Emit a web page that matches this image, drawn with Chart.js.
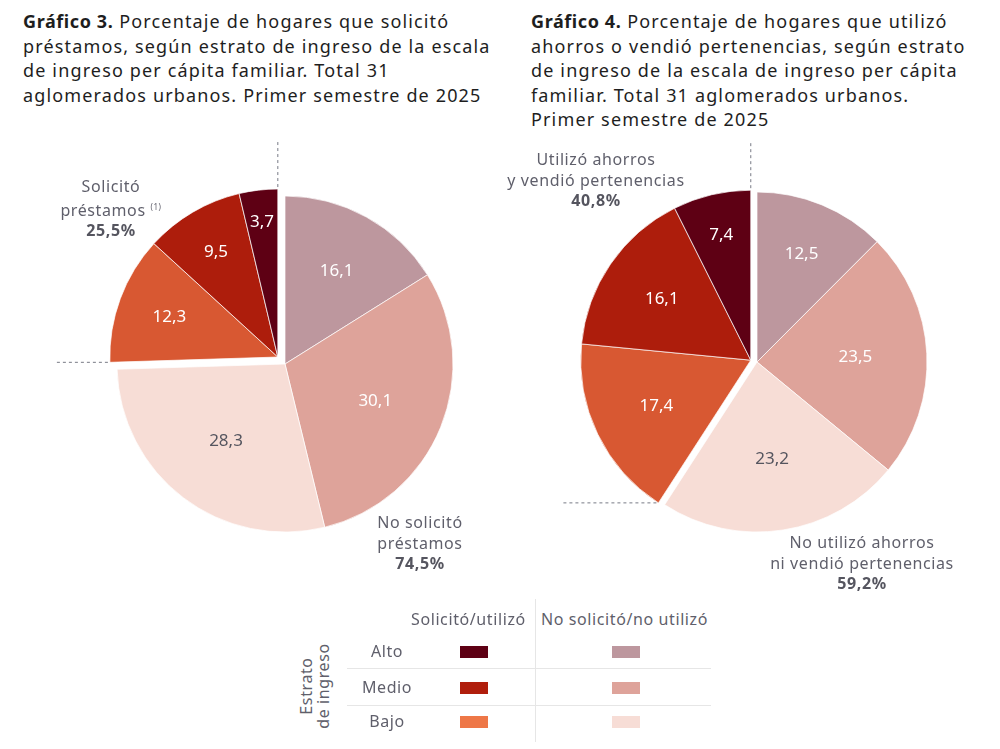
<!DOCTYPE html>
<html>
<head>
<meta charset="utf-8">
<script src="https://cdn.jsdelivr.net/npm/chart.js@4.4.1/dist/chart.umd.min.js"></script>
<style>
  body { margin: 0; background: #fff; width: 1000px; height: 749px; overflow: hidden; position: relative; font-family: "Noto Sans", sans-serif; }
  .title { position: absolute; top: 9px; font-family: "Noto Sans", sans-serif; font-size: 18px; line-height: 24.5px; color: #1e1e1e; letter-spacing: 1.15px; white-space: nowrap; }
  .title b { font-weight: 700; letter-spacing: 0.6px; }
  .lbl { position: absolute; text-align: center; font-size: 16px; line-height: 20.5px; color: #5f5f6b; letter-spacing: 0.6px; transform: translateX(-50%); white-space: nowrap; }
  .lbl b { font-weight: 700; color: #55555f; }
  .lbl sup { font-size: 8px; }
  .box { position: absolute; }
  .leg { position: absolute; font-size: 16px; color: #5f5f6b; letter-spacing: 0.6px; white-space: nowrap; }
  .sw { position: absolute; width: 28px; height: 12px; }
  .hl { position: absolute; height: 1px; background: #e6e6e6; }
</style>
</head>
<body>
<div class="title" style="left:23px"><b>Gráfico 3.</b> Porcentaje de hogares que solicitó<br>préstamos, según estrato de ingreso de la escala<br>de ingreso per cápita familiar. Total 31<br>aglomerados urbanos. Primer semestre de 2025</div>
<div class="title" style="left:531px"><b>Gráfico 4.</b> Porcentaje de hogares que utilizó<br>ahorros o vendió pertenencias, según estrato<br>de ingreso de la escala de ingreso per cápita<br>familiar. Total 31 aglomerados urbanos.<br>Primer semestre de 2025</div>

<div class="box" style="left:45px;top:129px;width:480px;height:470px"><canvas id="c3"></canvas></div>
<div class="box" style="left:517px;top:127px;width:480px;height:470px"><canvas id="c4"></canvas></div>

<div class="lbl" style="left:111px;top:176px">Solicitó<br>préstamos <sup>(1)</sup><br><b>25,5%</b></div>
<div class="lbl" style="left:420px;top:512px">No solicitó<br>préstamos<br><b>74,5%</b></div>
<div class="lbl" style="left:596px;top:149px">Utilizó ahorros<br>y vendió pertenencias<br><b>40,8%</b></div>
<div class="lbl" style="left:862px;top:532px">No utilizó ahorros<br>ni vendió pertenencias<br><b>59,2%</b></div>

<div id="legend"></div>

<script>
// Datos
const estratos = ['Alto', 'Medio', 'Bajo'];
const prestamosSi = [3.7, 9.5, 12.3];
const prestamosNo = [16.1, 30.1, 28.3];
const ahorrosSi = [7.4, 16.1, 17.4];
const ahorrosNo = [12.5, 23.5, 23.2];

const coloresSi = ['#5e0014', '#ad1d0c', '#d85832'];
const coloresNo = ['#bd979e', '#dea39a', '#f7ddd6'];
const legendSi = ['#5e0014', '#b01e0c', '#ee7747'];

// orden horario desde arriba: No (Alto, Medio, Bajo), Si (Bajo, Medio, Alto)
function ordenar(si, no) {
    return [no[0], no[1], no[2], si[2], si[1], si[0]];
}
const colores = [coloresNo[0], coloresNo[1], coloresNo[2], coloresSi[2], coloresSi[1], coloresSi[0]];

const fmt = v => v.toFixed(1).replace('.', ',');

// desplaza el grupo "si" (indices 3..5) como un bloque
const grupoPlugin = {
    id: 'grupo',
    afterDatasetUpdate(chart, args, opts) {
        const els = args.meta.data;
        const start = els[3].startAngle, end = els[5].endAngle;
        const mid = (start + end) / 2;
        const dx = Math.cos(mid) * opts.shift, dy = Math.sin(mid) * opts.shift;
        for (let i = 3; i < 6; i++) {
            els[i].x += dx;
            els[i].y += dy;
        }
    },
    afterDatasetsDraw(chart, args, opts) {
        const ctx = chart.ctx;
        const meta = chart.getDatasetMeta(0);
        const data = chart.data.datasets[0].data;
        // lineas punteadas
        const a = meta.data[3], c = meta.data[5];
        ctx.save();
        ctx.strokeStyle = '#777a85';
        ctx.lineWidth = 1;
        ctx.setLineDash([3, 3]);
        ctx.beginPath();
        ctx.moveTo(c.x, c.y - c.outerRadius - 2);
        ctx.lineTo(c.x, c.y - c.outerRadius - opts.vLen);
        const px = a.x + Math.cos(a.startAngle) * a.outerRadius;
        const py = a.y + Math.sin(a.startAngle) * a.outerRadius;
        ctx.moveTo(px - 2, py);
        ctx.lineTo(px - opts.hLen, py);
        ctx.stroke();
        ctx.restore();
        // valores
        ctx.save();
        ctx.font = '17px "Noto Sans", sans-serif';
        ctx.textAlign = 'center';
        ctx.textBaseline = 'middle';
        meta.data.forEach((el, i) => {
            const v = data[i];
            const m = (el.startAngle + el.endAngle) / 2;
            const f = Math.max(0.58, 0.86 - 0.014 * v);
            const x = el.x + Math.cos(m) * el.outerRadius * f;
            const y = el.y + Math.sin(m) * el.outerRadius * f;
            ctx.fillStyle = i === 2 ? '#55555f' : '#ffffff';
            ctx.fillText(fmt(v), x, y);
        });
        ctx.restore();
    }
};

function crearPie(id, valores, radio, shift, vLen, hLen) {
    return new Chart(document.getElementById(id), {
        type: 'pie',
        data: {
            labels: ['No Alto', 'No Medio', 'No Bajo', 'Sí Bajo', 'Sí Medio', 'Sí Alto'],
            datasets: [{
                data: valores,
                backgroundColor: colores,
                borderColor: 'rgba(255,255,255,0.7)',
                borderWidth: 1,
                radius: radio
            }]
        },
        options: {
            responsive: true,
            maintainAspectRatio: false,
            animation: false,
            events: [],
            plugins: {
                legend: { display: false },
                tooltip: { enabled: false },
                grupo: { shift: shift, vLen: vLen, hLen: hLen }
            }
        },
        plugins: [grupoPlugin]
    });
}

crearPie('c3', ordenar(prestamosSi, prestamosNo), 168, 10, 48, 54);
crearPie('c4', ordenar(ahorrosSi, ahorrosNo), 170, 6.5, 48, 97);

// leyenda
const leg = document.getElementById('legend');
let html = '';
html += '<div class="leg" style="left:411px;top:608px">Solicitó/utilizó</div>';
html += '<div class="leg" style="left:541px;top:608px">No solicitó/no utilizó</div>';
html += '<div style="position:absolute;left:535px;top:599px;width:1px;height:143px;background:#e6e6e6"></div>';
html += '<div class="hl" style="left:347px;top:668px;width:364px"></div>';
html += '<div class="hl" style="left:347px;top:705px;width:364px"></div>';
html += '<div class="leg" style="left:315px;top:686px;transform:translate(-50%,-50%) rotate(-90deg);text-align:center;line-height:17px">Estrato<br>de ingreso</div>';
const rowsY = [652, 688, 722];
estratos.forEach((e, i) => {
    html += '<div class="leg" style="left:387px;top:' + (rowsY[i] - 12) + 'px;transform:translateX(-50%)">' + e + '</div>';
    html += '<div class="sw" style="left:460px;top:' + (rowsY[i] - 6) + 'px;background:' + legendSi[i] + '"></div>';
    html += '<div class="sw" style="left:612px;top:' + (rowsY[i] - 6) + 'px;background:' + coloresNo[i] + '"></div>';
});
leg.innerHTML = html;
</script>
</body>
</html>
